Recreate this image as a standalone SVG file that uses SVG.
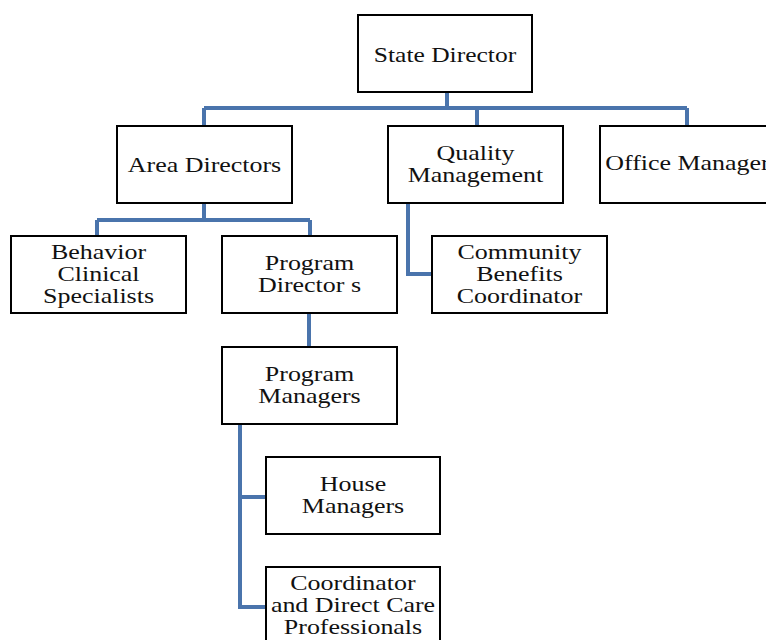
<svg xmlns="http://www.w3.org/2000/svg" width="766" height="640" viewBox="0 0 766 640">
<style>
.box{fill:#fff;stroke:#000;stroke-width:2}
.t{font-family:'Liberation Serif','Times New Roman',serif;font-size:22px;fill:#111;text-anchor:middle}
.c{fill:none;stroke:#4a74ac;stroke-width:4}
</style>
<rect width="766" height="640" fill="#fff"/>
<g id="connectors">
<path class="c" d="M447 92V108M204 108H687M204 108V126M477 108V126M687 108V126"/>
<path class="c" d="M204 203V220M97 220H310M97 220V236M310 220V236"/>
<path class="c" d="M408 203V274H432"/>
<path class="c" d="M309 313V347"/>
<path class="c" d="M240 424V607H266M240 497H266"/>
</g>
<g id="state-director"><rect class="box" x="358" y="15" width="174" height="77"/><text class="t" transform="translate(445 62) scale(1.16 1)">State Director</text></g>
<g id="area-directors"><rect class="box" x="117" y="126" width="175" height="77"/><text class="t" transform="translate(204.5 172) scale(1.18 1)">Area Directors</text></g>
<g id="quality-management"><rect class="box" x="388" y="126" width="175" height="77"/><text class="t" transform="translate(475.5 160) scale(1.18 1)">Quality</text><text class="t" transform="translate(475.5 182) scale(1.18 1)">Management</text></g>
<g id="office-manager"><rect class="box" x="600" y="126" width="175" height="77"/><text class="t" transform="translate(687.5 170) scale(1.18 1)">Office Manager</text></g>
<g id="behavior-clinical-specialists"><rect class="box" x="11" y="236" width="175" height="77"/><text class="t" transform="translate(98.5 259) scale(1.18 1)">Behavior</text><text class="t" transform="translate(98.5 281) scale(1.18 1)">Clinical</text><text class="t" transform="translate(98.5 303) scale(1.18 1)">Specialists</text></g>
<g id="program-directors"><rect class="box" x="222" y="236" width="175" height="77"/><text class="t" transform="translate(309.5 270) scale(1.18 1)">Program</text><text class="t" transform="translate(309.5 292) scale(1.18 1)">Director s</text></g>
<g id="community-benefits-coordinator"><rect class="box" x="432" y="236" width="175" height="77"/><text class="t" transform="translate(519.5 259) scale(1.18 1)">Community</text><text class="t" transform="translate(519.5 281) scale(1.18 1)">Benefits</text><text class="t" transform="translate(519.5 303) scale(1.18 1)">Coordinator</text></g>
<g id="program-managers"><rect class="box" x="222" y="347" width="175" height="77"/><text class="t" transform="translate(309.5 381) scale(1.18 1)">Program</text><text class="t" transform="translate(309.5 403) scale(1.18 1)">Managers</text></g>
<g id="house-managers"><rect class="box" x="266" y="457" width="174" height="77"/><text class="t" transform="translate(353 491) scale(1.18 1)">House</text><text class="t" transform="translate(353 513) scale(1.18 1)">Managers</text></g>
<g id="coordinator-dcp"><rect class="box" x="266" y="567" width="174" height="77"/><text class="t" transform="translate(353 590) scale(1.18 1)">Coordinator</text><text class="t" transform="translate(353 612) scale(1.18 1)">and Direct Care</text><text class="t" transform="translate(353 634) scale(1.18 1)">Professionals</text></g>
</svg>
